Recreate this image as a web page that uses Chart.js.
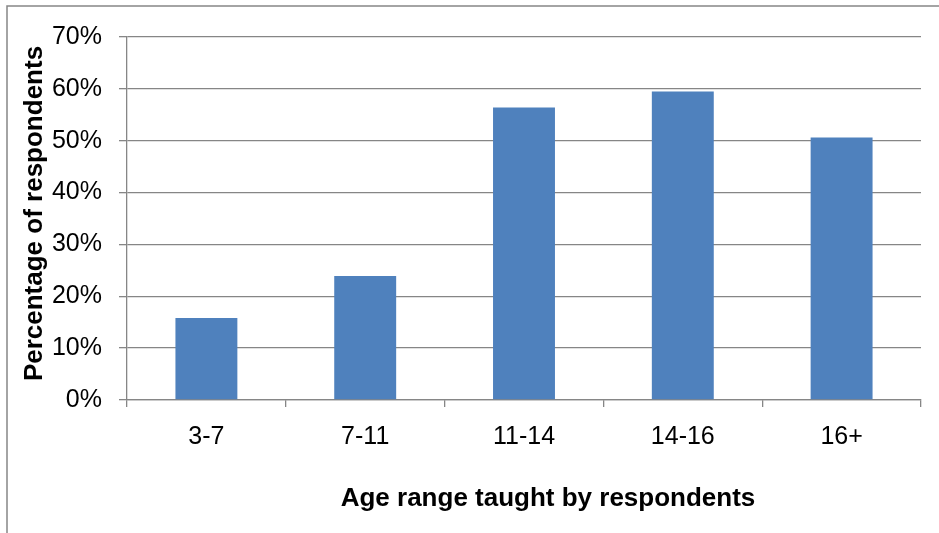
<!DOCTYPE html>
<html>
<head>
<meta charset="utf-8">
<title>Age range taught by respondents</title>
<script src="https://cdn.jsdelivr.net/npm/chart.js@4/dist/chart.umd.min.js"></script>
<style>
    html, body { margin: 0; padding: 0; background: #fff; }
    #ageChart { display: block; }
</style>
</head>
<body>
<canvas id="ageChart" width="939" height="533"></canvas>
<script>
var ageLabels = ['3-7', '7-11', '11-14', '14-16', '16+'];
var respondentPct = [15.8, 23.9, 56.4, 59.5, 50.6];
var yTicks = [0, 10, 20, 30, 40, 50, 60, 70];
var xTitle = 'Age range taught by respondents';
var yTitle = 'Percentage of respondents';

(function () {
    var lineGray = '#868686',
        fontFamily = "'Liberation Sans', Arial, sans-serif";

    // outer frame + axis titles, drawn straight on the canvas
    var frameAndTitles = {
        id: 'frameAndTitles',
        beforeDraw: function (chart) {
            var ctx = chart.ctx;
            ctx.save();
            ctx.strokeStyle = lineGray;
            ctx.lineWidth = 1.5;
            ctx.strokeRect(7, 6, 960, 560);
            ctx.restore();
        },
        afterDraw: function (chart) {
            var ctx = chart.ctx,
                area = chart.chartArea;
            ctx.save();
            ctx.fillStyle = '#000';
            ctx.font = 'bold 26px ' + fontFamily;
            ctx.textAlign = 'center';
            ctx.textBaseline = 'middle';
            ctx.fillText(xTitle, (area.left + area.right) / 2 + 24, 499);
            ctx.translate(35, (area.top + area.bottom) / 2 - 5);
            ctx.rotate(-Math.PI / 2);
            ctx.fillText(yTitle, 0, 0);
            ctx.restore();
        }
    };

    var ctx = document.getElementById('ageChart').getContext('2d');
    new Chart(ctx, {
        type: 'bar',
        data: {
            labels: ageLabels,
            datasets: [{
                data: respondentPct,
                backgroundColor: '#4f81bd',
                borderWidth: 0,
                barPercentage: 0.39,
                categoryPercentage: 1
            }]
        },
        options: {
            responsive: false,
            animation: false,
            devicePixelRatio: 1,
            layout: { padding: { left: 0, right: 18, top: 37, bottom: 0 } },
            plugins: {
                legend: { display: false },
                tooltip: { enabled: false }
            },
            scales: {
                x: {
                    afterFit: function (scale) { scale.height = 133; },
                    grid: {
                        display: true,
                        drawOnChartArea: false,
                        drawTicks: true,
                        tickLength: 7,
                        color: lineGray,
                        lineWidth: 1.3
                    },
                    border: { color: lineGray, width: 1.3 },
                    ticks: {
                        color: '#000',
                        padding: 15,
                        font: { family: fontFamily, size: 25 }
                    }
                },
                y: {
                    min: 0,
                    max: 70,
                    afterFit: function (scale) { scale.width = 127; },
                    afterBuildTicks: function (scale) {
                        scale.ticks = yTicks.map(function (v) { return { value: v }; });
                    },
                    grid: {
                        color: lineGray,
                        lineWidth: 1.3,
                        tickLength: 8
                    },
                    border: { color: lineGray, width: 1.3 },
                    ticks: {
                        color: '#000',
                        padding: 17,
                        font: { family: fontFamily, size: 25 },
                        callback: function (v) { return v + '%'; }
                    }
                }
            }
        },
        plugins: [frameAndTitles]
    });
})();
</script>
</body>
</html>
